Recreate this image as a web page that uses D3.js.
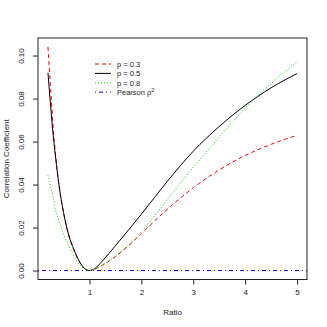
<!DOCTYPE html>
<html>
<head>
<meta charset="utf-8">
<script src="https://cdn.jsdelivr.net/npm/d3@7"></script>
<style>
  html, body { margin: 0; padding: 0; background: #fff; }
  svg { display: block; font-family: "Liberation Sans", Arial, sans-serif; }
</style>
</head>
<body>
<div id="chart"></div>
<script>
// ratio grid and readings
const ratio = [0.2, 0.25, 0.3, 0.35, 0.4, 0.5, 0.6, 0.7, 0.8, 0.9, 1.0, 1.1, 1.25, 1.5, 1.75, 2, 2.5, 3, 3.5, 4, 4.5, 5];
const p03 = [0.104, 0.085, 0.067, 0.053, 0.042, 0.027, 0.0165, 0.0095, 0.0043, 0.001, 0, 0.0006, 0.0025, 0.0065, 0.0115, 0.0172, 0.0285, 0.0385, 0.0468, 0.0535, 0.0587, 0.0629];
const p05 = [0.092, 0.077, 0.063, 0.052, 0.042, 0.027, 0.0165, 0.0098, 0.0045, 0.0011, 0, 0.0009, 0.0045, 0.0115, 0.0188, 0.0262, 0.0415, 0.0555, 0.067, 0.0768, 0.085, 0.0916];
const p08 = [0.0443, 0.039, 0.034, 0.028, 0.024, 0.017, 0.0115, 0.0065, 0.003, 0.0008, 0, 0.0006, 0.0026, 0.0068, 0.0118, 0.018, 0.033, 0.048, 0.062, 0.0755, 0.087, 0.097];
const xTicks = [1, 2, 3, 4, 5];
const yTicks = [0, 0.02, 0.04, 0.06, 0.08, 0.10];

const series = [
  {label: 'p = 0.3', values: p03, color: 'red', dash: '4 3'},
  {label: 'p = 0.5', values: p05, color: 'black', dash: null},
  {label: 'p = 0.8', values: p08, color: '#00e000', dash: '1 2'}
];
const pearson = {label: 'Pearson ρ', color: 'blue', dash: '1 3 4 3'};

const W = 327, H = 327;
const box = {left: 38, right: 307, top: 38, bottom: 279.5};

const svg = d3.select('#chart').append('svg').attr('width', W).attr('height', H);

// R style 4% padding on both axes
const x = d3.scaleLinear().domain([0.2 - 0.192, 5 + 0.192]).range([box.left, box.right]);
const y = d3.scaleLinear().domain([-0.00416, 0.10816]).range([box.bottom, box.top]);

const line = d3.line().x(d => x(d[0])).y(d => y(d[1])).curve(d3.curveMonotoneX);

// pearson at zero
svg.append('line')
  .attr('x1', box.left).attr('x2', box.right)
  .attr('y1', y(0)).attr('y2', y(0))
  .attr('stroke', pearson.color).attr('stroke-width', 1)
  .attr('stroke-dasharray', pearson.dash);

series.forEach(s => {
  svg.append('path')
    .datum(ratio.map((r, i) => [r, s.values[i]]))
    .attr('fill', 'none')
    .attr('stroke', s.color)
    .attr('stroke-width', 1)
    .attr('stroke-dasharray', s.dash)
    .attr('d', line);
});

// box
svg.append('rect')
  .attr('x', box.left).attr('y', box.top)
  .attr('width', box.right - box.left).attr('height', box.bottom - box.top)
  .attr('fill', 'none').attr('stroke', '#222').attr('stroke-width', 1);

// axes
const xA = d3.axisBottom(x).tickValues(xTicks).tickSize(5).tickPadding(5).tickFormat(d3.format('d'));
const xg = svg.append('g').attr('transform', `translate(0,${box.bottom})`).call(xA);
xg.select('.domain').remove();
xg.selectAll('text').attr('font-size', 8).attr('fill', '#222').attr('font-family', 'Liberation Sans, Arial, sans-serif');
xg.selectAll('line').attr('stroke', '#222');

const yA = d3.axisLeft(y).tickValues(yTicks).tickSize(5).tickFormat(d3.format('.2f'));
const yg = svg.append('g').attr('transform', `translate(${box.left},0)`).call(yA);
yg.select('.domain').remove();
yg.selectAll('line').attr('stroke', '#222');
yg.selectAll('text')
  .attr('font-size', 8).attr('fill', '#222').attr('font-family', 'Liberation Sans, Arial, sans-serif')
  .attr('x', null).attr('dy', null)
  .attr('text-anchor', 'middle')
  .attr('transform', 'translate(-14,0) rotate(-90)');

// titles
svg.append('text').attr('x', (box.left + box.right) / 2).attr('y', 315)
  .attr('text-anchor', 'middle').attr('font-size', 8).attr('fill', '#222').text('Ratio');
svg.append('text').attr('transform', `translate(9,${(box.top + box.bottom) / 2}) rotate(-90)`)
  .attr('text-anchor', 'middle').attr('font-size', 8).attr('fill', '#222').text('Correlation Coefficient');

// legend
const leg = svg.append('g');
const legItems = series.concat([pearson]);
legItems.forEach((s, i) => {
  const ly = 64 + i * 9.4;
  leg.append('line').attr('x1', 95).attr('x2', 111).attr('y1', ly).attr('y2', ly)
    .attr('stroke', s.color).attr('stroke-width', 1).attr('stroke-dasharray', s.dash);
  const t = leg.append('text').attr('x', 117).attr('y', ly + 3)
    .attr('font-size', 7.5).attr('fill', '#222').text(s.label);
  if (s === pearson) {
    t.append('tspan').attr('dy', -3).attr('font-size', 5.5).text('2');
  }
});
</script>
</body>
</html>
